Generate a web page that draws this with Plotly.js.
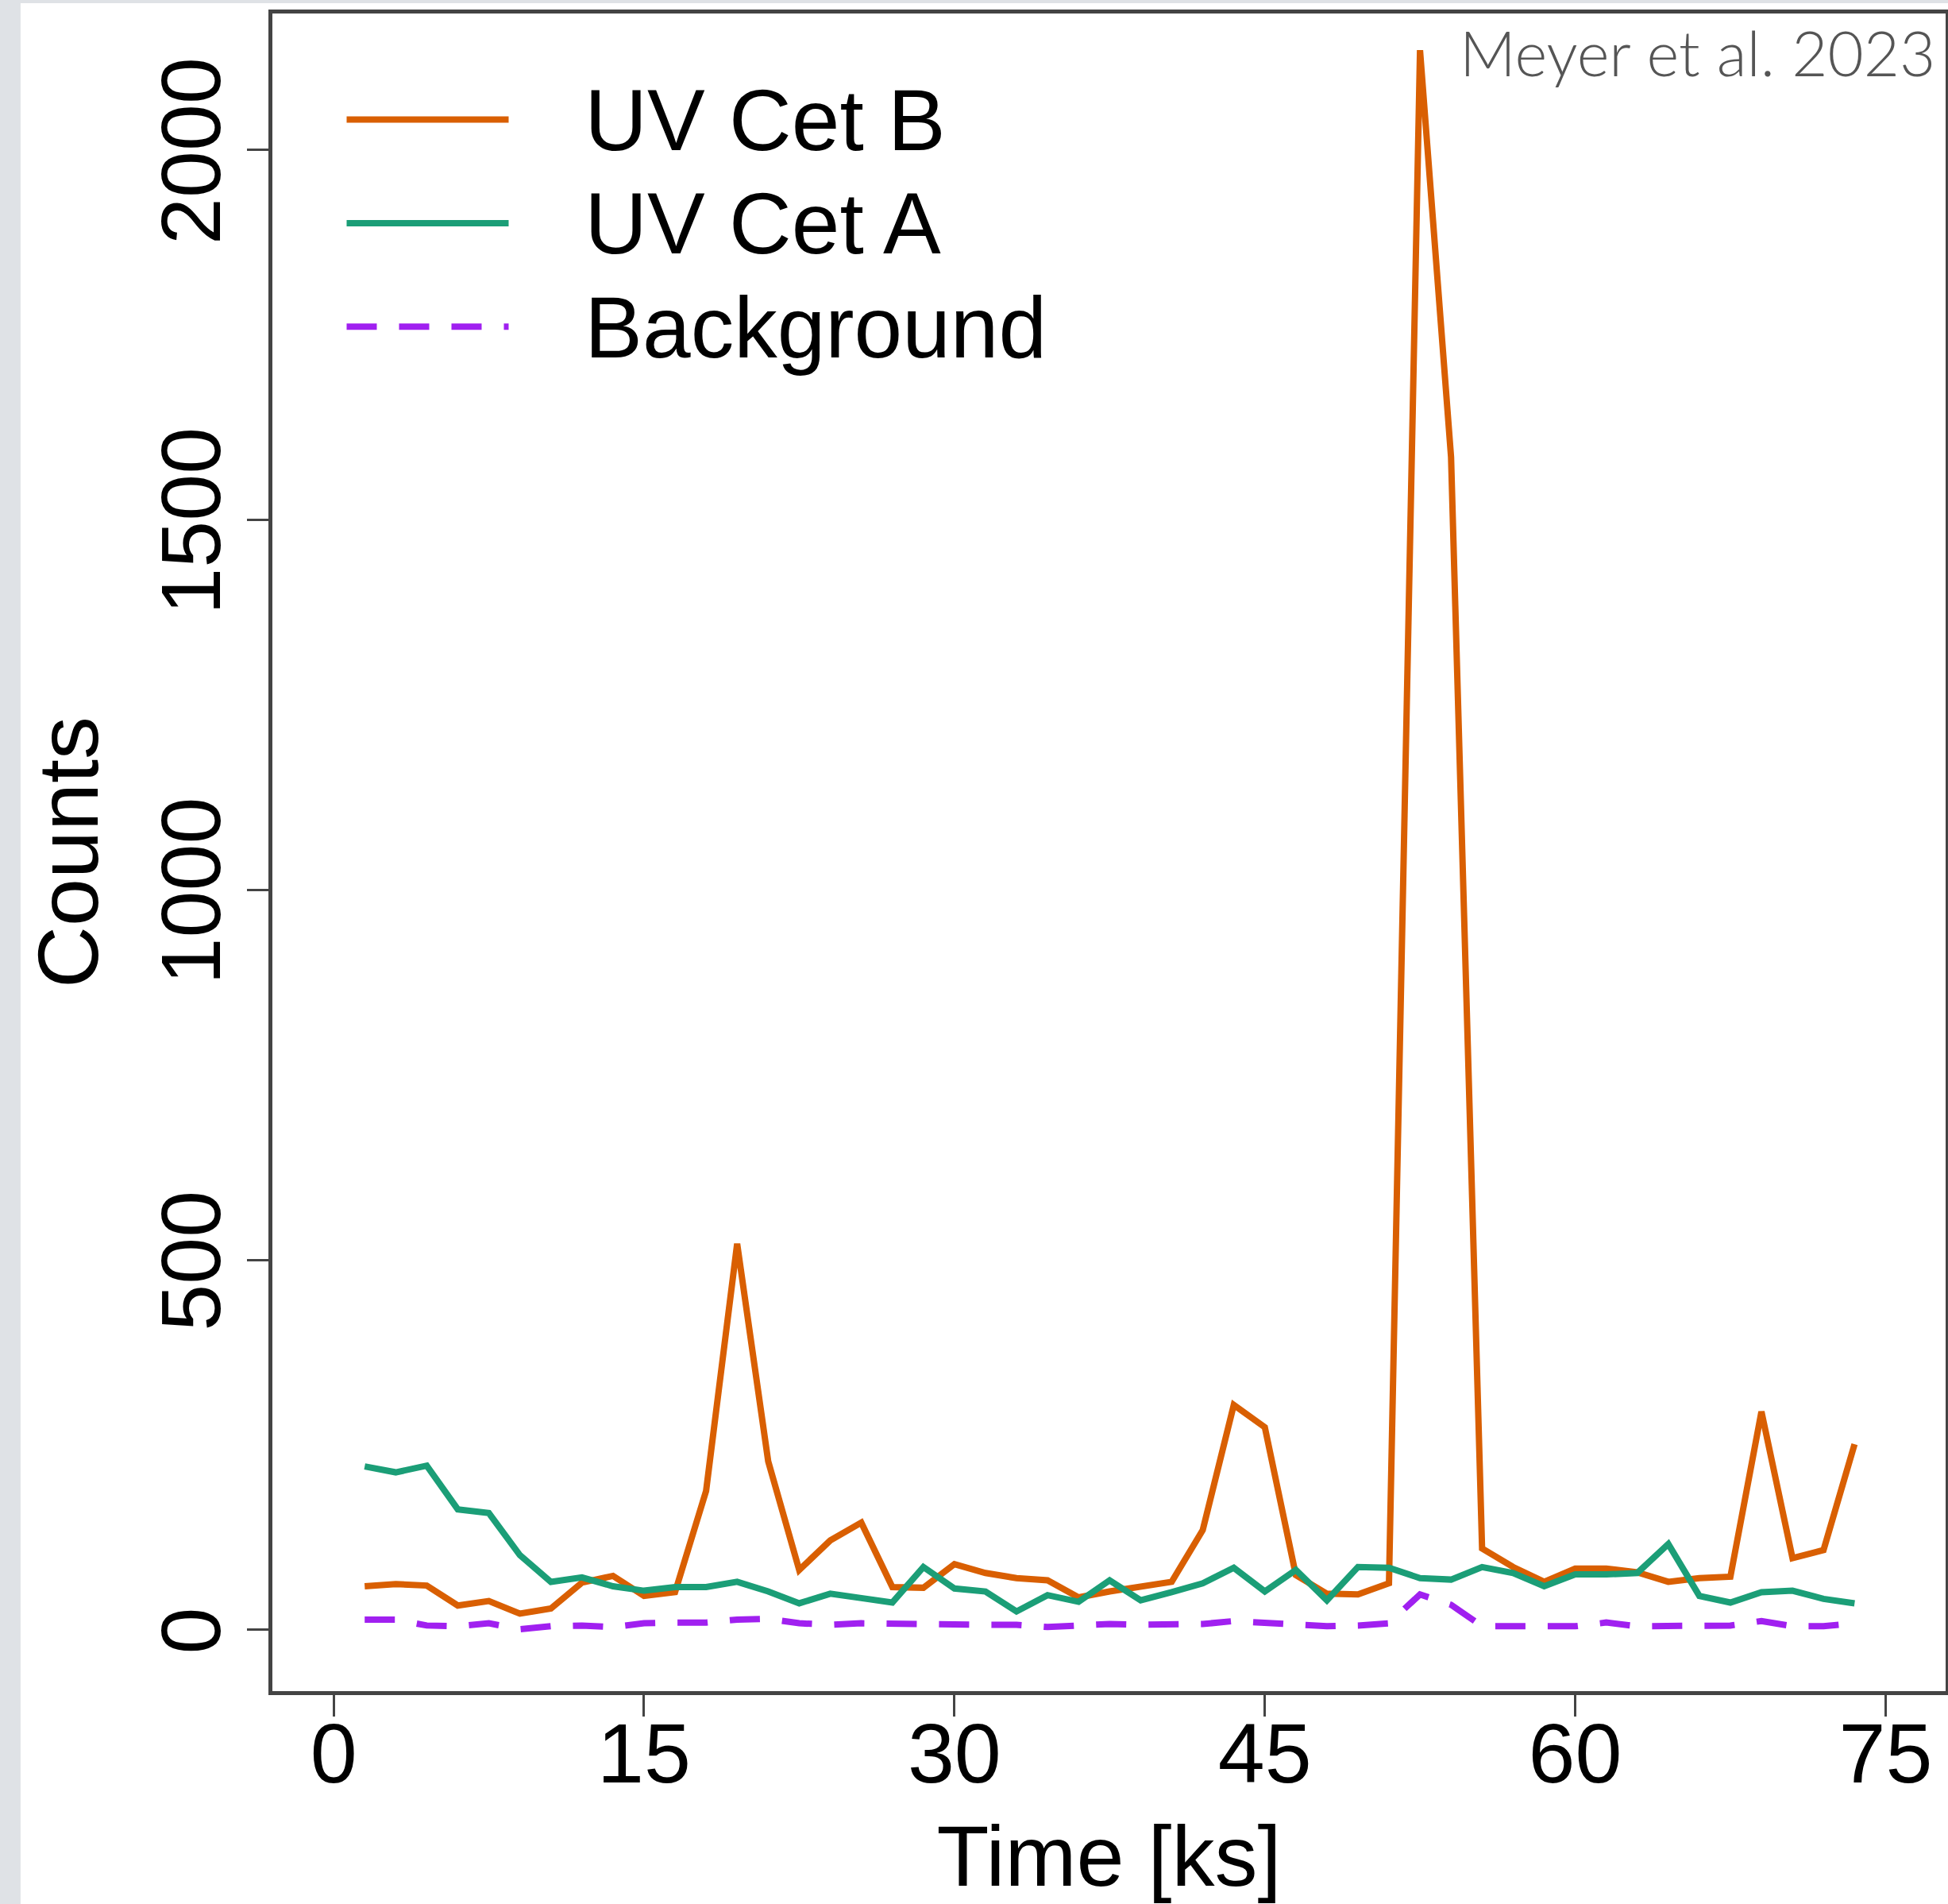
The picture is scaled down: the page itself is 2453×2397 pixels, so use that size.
<!DOCTYPE html>
<html>
<head>
<meta charset="utf-8">
<script src="https://cdn.plot.ly/plotly-3.0.1.min.js"></script>
<style>
  html, body { margin: 0; padding: 0; background: #ffffff; }
  #chart { width: 2453px; height: 2397px; }
</style>
</head>
<body>
<div id="chart"></div>
<script>
// Time bins [ks]
const timeKs = [1.5, 3, 4.5, 6, 7.5, 9, 10.5, 12, 13.5, 15, 16.5, 18, 19.5, 21, 22.5, 24, 25.5, 27, 28.5, 30,
  31.5, 33, 34.5, 36, 37.5, 39, 40.5, 42, 43.5, 45, 46.5, 48, 49.5, 51, 52.5, 54, 55.5, 57, 58.5, 60,
  61.5, 63, 64.5, 66, 67.5, 69, 70.5, 72, 73.5];

// Counts per bin
const uvCetB = [59, 62, 60, 33, 39, 22, 29, 64, 73, 46, 51, 188, 522, 228, 81, 121, 145, 58, 57, 89,
  77, 70, 67, 44, 52, 59, 65, 135, 304, 274, 74, 49, 48, 63, 2135, 1585, 110, 85, 65, 83,
  83, 78, 65, 70, 72, 295, 97, 108, 251];

const uvCetA = [221, 213, 222, 163, 158, 101, 65, 71, 59, 53, 58, 58, 65, 52, 36, 49, 43, 37, 85, 56,
  52, 25, 47, 38, 67, 40, 51, 63, 84, 52, 81, 40, 85, 84, 70, 68, 85, 77, 59, 75,
  75, 77, 116, 46, 37, 51, 53, 42, 36];

const background = [14, 14, 6, 5, 9, 1, 5, 6, 4, 9, 10, 10, 14, 15, 9, 7, 9, 8, 8, 6,
  7, 7, 4, 6, 8, 7, 7, 8, 12, 9, 7, 5, 6, 9, 48, 34, 5, 4, 5, 5,
  10, 5, 5, 6, 6, 12, 5, 5, 9];

const seriesNames = ["UV Cet B", "UV Cet A", "Background"];
const seriesColors = ["#D95F02", "#1B9E77", "#A020F0"];
const xTicks = [0, 15, 30, 45, 60, 75];
const yTicks = [0, 500, 1000, 1500, 2000];
const xTitle = "Time [ks]";
const yTitle = "Counts";
const creditText = "Meyer et al. 2023";

const FONT = "'Liberation Sans', Arial, Helvetica, sans-serif";
function legendLabel(name) {
  return '<span style="font-size:109px">\u00A0\u00A0\u00A0' + name + '</span>';
}

const traces = [
  { x: timeKs, y: uvCetB, name: legendLabel(seriesNames[0]), type: "scatter", mode: "lines",
    line: { color: seriesColors[0], width: 8 } },
  { x: timeKs, y: uvCetA, name: legendLabel(seriesNames[1]), type: "scatter", mode: "lines",
    line: { color: seriesColors[1], width: 8 } },
  { x: timeKs, y: background, name: legendLabel(seriesNames[2]), type: "scatter", mode: "lines",
    line: { color: seriesColors[2], width: 8, dash: "38px,28px" } }
];

const axisCommon = {
  showgrid: false, zeroline: false, showline: true, mirror: true,
  linecolor: "#444444", linewidth: 5,
  ticks: "outside", ticklen: 27, tickwidth: 3, tickcolor: "#444444",
  tickfont: { family: FONT, size: 106, color: "#000000" },
  automargin: false
};

const layout = {
  width: 2453, height: 2397,
  margin: { l: 343, r: 3, t: 17, b: 268 },
  paper_bgcolor: "#dfe2e6",
  plot_bgcolor: "#ffffff",
  font: { family: FONT, color: "#000000" },
  xaxis: Object.assign({}, axisCommon, {
    range: [-2.96, 77.9], tickmode: "array", tickvals: xTicks, ticktext: xTicks.map(String),
    ticklabelstandoff: -44,
    title: { text: xTitle, font: { family: FONT, size: 108, color: "#000000" } }
  }),
  yaxis: Object.assign({}, axisCommon, {
    range: [-82.7, 2184.6], tickmode: "array", tickvals: yTicks, ticktext: yTicks.map(String),
    tickangle: -90, ticklabelstandoff: -8, ticklabelshift: 17,
    title: { text: '<span style="font-size:108px">' + yTitle + '</span>',
             font: { family: FONT, size: 103, color: "#000000" } }
  }),
  showlegend: true,
  legend: {
    x: 0.042, y: 0.97, xanchor: "left", yanchor: "top",
    bgcolor: "rgba(0,0,0,0)", borderwidth: 0,
    itemwidth: 204,
    font: { family: FONT, size: 98, color: "#000000" },
    tracegroupgap: 0
  },
  shapes: [
    { type: "rect", xref: "paper", yref: "paper", layer: "below",
      x0: -0.1505, x1: 1.01, y0: -0.13, y1: 1.00616,
      fillcolor: "#ffffff", line: { width: 0 } }
  ],
  annotations: [
    { text: creditText, xref: "paper", yref: "paper", x: 0.9948, y: 1.0002,
      xanchor: "right", yanchor: "top", showarrow: false,
      font: { family: "Lato, 'Open Sans', sans-serif", size: 78, color: "#555555", weight: 300 } }
  ]
};

Plotly.newPlot("chart", traces, layout, { displayModeBar: false, staticPlot: true });
</script>
</body>
</html>
